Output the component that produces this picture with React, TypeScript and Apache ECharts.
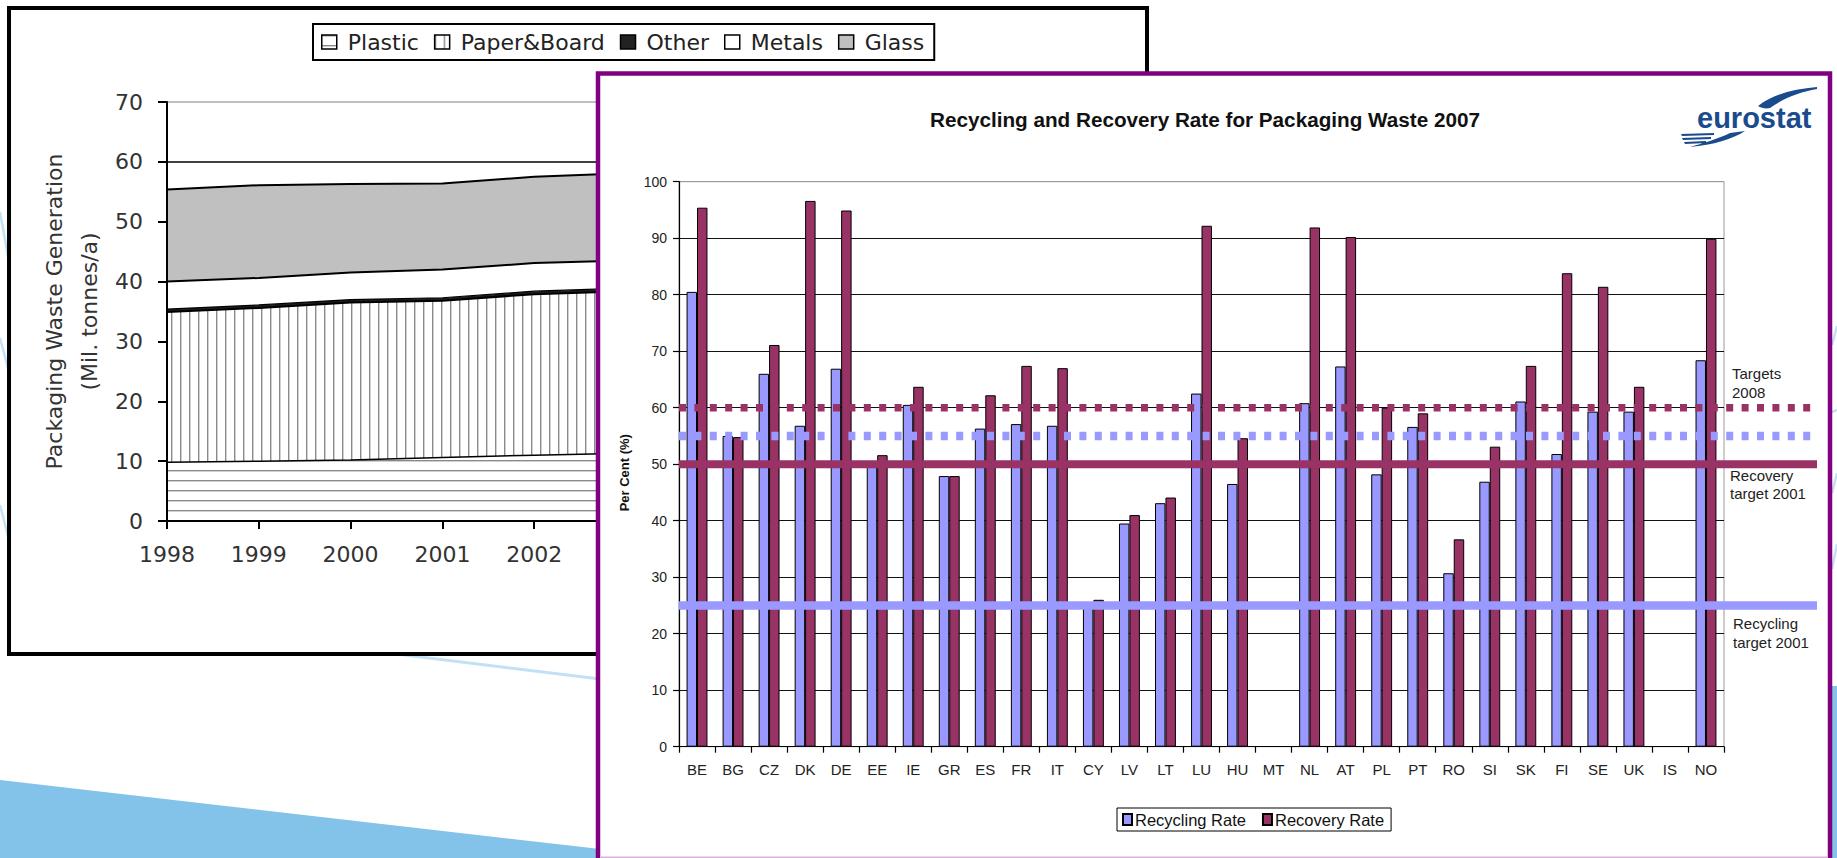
import React, { useEffect, useRef } from 'react';
import * as echarts from 'echarts';

// ---------- Left (background) chart: packaging waste generation ----------
const years = ['1998', '1999', '2000', '2001', '2002', '2003'];
const plastic = [9.8, 10.0, 10.2, 10.6, 11.0, 11.3];
const paperBoard = [25.1, 25.6, 26.3, 26.2, 26.9, 27.1];
const other = [0.5, 0.5, 0.5, 0.5, 0.5, 0.5];
const metals = [4.6, 4.5, 4.5, 4.7, 4.7, 4.6];
const glass = [15.4, 15.5, 14.8, 14.4, 14.4, 14.6];
const leftYTicks = [0, 10, 20, 30, 40, 50, 60, 70];

// ---------- Front chart: recycling & recovery 2007 ----------
const countries = ['BE', 'BG', 'CZ', 'DK', 'DE', 'EE', 'IE', 'GR', 'ES', 'FR', 'IT', 'CY', 'LV', 'LT', 'LU', 'HU', 'MT', 'NL', 'AT', 'PL', 'PT', 'RO', 'SI', 'SK', 'FI', 'SE', 'UK', 'IS', 'NO'];
const recyclingRate = [80.5, 55.0, 66.0, 56.8, 66.9, 50.2, 60.5, 47.9, 56.3, 57.1, 56.8, 25.0, 39.5, 43.1, 62.5, 46.5, null, 60.8, 67.3, 48.2, 56.6, 30.7, 46.9, 61.1, 51.8, 59.3, 59.3, null, 68.4];
const recoveryRate = [95.4, 54.8, 71.1, 96.6, 94.9, 51.6, 63.7, 47.9, 62.2, 67.4, 67.0, 26.0, 41.0, 44.1, 92.2, 54.6, null, 91.9, 90.2, 60.0, 59.0, 36.7, 53.1, 67.4, 83.8, 81.4, 63.7, null, 89.9];

const recyclingTarget2001 = 25;
const recoveryTarget2001 = 50;
const recyclingTarget2008 = 55;
const recoveryTarget2008 = 60;

const svgUrl = (s: string) => 'data:image/svg+xml;charset=utf-8,' + encodeURIComponent(s);
const hSvg = "<svg xmlns='http://www.w3.org/2000/svg' width='10' height='10'><rect width='10' height='10' fill='#ffffff'/><rect x='0' y='0' width='10' height='1.4' fill='#8a8a8a'/></svg>";
const vSvg = "<svg xmlns='http://www.w3.org/2000/svg' width='9' height='9'><rect width='9' height='9' fill='#ffffff'/><rect x='0' y='0' width='1.4' height='9' fill='#8a8a8a'/></svg>";
const hPattern: any = { image: svgUrl(hSvg), repeat: 'repeat', imageWidth: 10, imageHeight: 10 };
const vPattern: any = { image: svgUrl(vSvg), repeat: 'repeat', imageWidth: 9, imageHeight: 9 };

echarts.graphic.registerShape(
  'swooshTop',
  echarts.graphic.extendPath('M8,22 C24,10 44,5 67,3 L67,5 C50,8 34,14 20,24 C16,25 11,24 8,22 Z', {})
);
echarts.graphic.registerShape(
  'swooshBottom',
  echarts.graphic.extendPath(
    'M67,3 C55,11 35,17 12,19 C22,16 40,11 52,5 Z M3,6 L36,5 L36,7 L4,8 Z M4,10 L33,9 L33,11 L5,12 Z M6,14 L28,13 L28,15 L7,16 Z',
    {}
  )
);

const FONT = 'Liberation Sans';
const WIDE = 'DejaVu Sans';

export default function App() {
  const ref = useRef<HTMLDivElement>(null);

  useEffect(() => {
    const chart = echarts.init(ref.current!, null, { renderer: 'svg' });

    const lightBlue = '#c3e1f5';
    const option: any = {
      animation: false,
      backgroundColor: '#ffffff',
      textStyle: { fontFamily: FONT },
      title: [
        {
          text: 'Recycling and Recovery Rate for Packaging Waste 2007',
          left: 930,
          top: 109,
          padding: 0,
          z: 22,
          textStyle: { fontFamily: FONT, fontWeight: 'bold', fontSize: 20.7, color: '#111' },
        },
      ],
      legend: [
        {
          data: [
            { name: 'Plastic', itemStyle: { color: hPattern, borderColor: '#000', borderWidth: 1.5 } },
            { name: 'Paper&Board', itemStyle: { color: vPattern, borderColor: '#000', borderWidth: 1.5 } },
            { name: 'Other', itemStyle: { color: '#222', borderColor: '#000', borderWidth: 1.5 } },
            { name: 'Metals', itemStyle: { color: '#fff', borderColor: '#000', borderWidth: 1.5 } },
            { name: 'Glass', itemStyle: { color: '#c0c0c0', borderColor: '#000', borderWidth: 1.5 } },
          ],
          left: 313,
          top: 24,
          z: 6,
          icon: 'rect',
          itemWidth: 15,
          itemHeight: 14,
          itemGap: 15,
          padding: [7, 10, 7, 8],
          borderColor: '#000',
          borderWidth: 2,
          backgroundColor: '#fff',
          textStyle: { fontFamily: WIDE, fontSize: 22, color: '#222', padding: [0, 0, 0, 6] },
        },
        {
          data: ['Recycling Rate', 'Recovery Rate'],
          left: 1117,
          top: 808,
          z: 22,
          icon: 'rect',
          itemWidth: 9,
          itemHeight: 11,
          itemGap: 16,
          padding: [3, 7, 3, 5],
          borderColor: '#000',
          borderWidth: 1,
          backgroundColor: '#fff',
          textStyle: { fontFamily: FONT, fontSize: 16.5, color: '#111', padding: [0, 0, 0, -2] },
        },
      ],
      grid: [
        { left: 167, top: 102, right: 1211, bottom: 337, z: 3 },
        {
          left: 679, top: 181.7, right: 113, bottom: 111.3, z: 20,
          show: true, backgroundColor: 'transparent', borderColor: '#9a9a9a', borderWidth: 1,
        },
        { left: 679, top: 181.7, right: 20, bottom: 111.3, z: 20 },
      ],
      xAxis: [
        {
          gridIndex: 0,
          type: 'category',
          data: years,
          boundaryGap: false,
          z: 5,
          axisLine: { lineStyle: { color: '#000', width: 2 } },
          axisTick: { show: true, length: 8, lineStyle: { color: '#000', width: 2 } },
          axisLabel: { fontFamily: WIDE, fontSize: 22, color: '#333', margin: 22 },
          splitLine: { show: false },
        },
        {
          gridIndex: 1,
          type: 'category',
          data: countries,
          z: 21,
          axisLine: { lineStyle: { color: '#000', width: 1.2 } },
          axisTick: { show: true, length: 6, interval: 0, lineStyle: { color: '#000', width: 1.2 } },
          axisLabel: { interval: 0, fontFamily: FONT, fontSize: 15, color: '#222', margin: 15 },
          splitLine: { show: false },
        },
        { gridIndex: 2, type: 'value', min: 0, max: 1, show: false },
      ],
      yAxis: [
        {
          gridIndex: 0,
          type: 'value',
          min: 0,
          max: 70,
          interval: 10,
          z: 5,
          name: 'Packaging Waste Generation\n(Mil. tonnes/a)',
          nameLocation: 'middle',
          nameRotate: 90,
          nameGap: 60,
          nameTextStyle: { fontFamily: WIDE, fontSize: 22, color: '#333', lineHeight: 35 },
          axisLine: { show: true, lineStyle: { color: '#000', width: 2 } },
          axisTick: { show: true, length: 9, lineStyle: { color: '#000', width: 2 } },
          axisLabel: { fontFamily: WIDE, fontSize: 22, color: '#333', margin: 24, formatter: (v: number) => String(v) },
          splitLine: {
            show: true,
            lineStyle: {
              width: 1.6,
              color: leftYTicks.map((t) => (t === 70 ? '#a8a8a8' : t === 60 || t === 0 ? '#000' : 'transparent')),
            },
          },
        },
        {
          gridIndex: 1,
          type: 'value',
          min: 0,
          max: 100,
          interval: 10,
          z: 21,
          name: 'Per Cent (%)',
          nameLocation: 'middle',
          nameRotate: 90,
          nameGap: 48,
          nameTextStyle: { fontFamily: FONT, fontWeight: 'bold', fontSize: 13, color: '#111', padding: [0, 17, 0, 0] },
          axisLine: { show: true, lineStyle: { color: '#000', width: 1.2 } },
          axisTick: { show: true, length: 6, lineStyle: { color: '#000', width: 1.2 } },
          axisLabel: { fontFamily: FONT, fontSize: 14, color: '#222', margin: 12 },
          splitLine: {
            show: true,
            lineStyle: {
              width: 1.2,
              color: ['#111', '#111', '#111', '#111', '#111', '#111', '#111', '#111', '#111', '#111', '#9a9a9a'],
            },
          },
        },
        { gridIndex: 2, type: 'value', min: 0, max: 100, show: false },
      ],
      series: [
        {
          name: 'Plastic', type: 'line', stack: 'waste', xAxisIndex: 0, yAxisIndex: 0, data: plastic,
          symbol: 'none', z: 4, silent: true,
          lineStyle: { color: '#000', width: 1.5 },
          areaStyle: { color: hPattern, opacity: 1 },
          itemStyle: { color: hPattern, borderColor: '#000' },
        },
        {
          name: 'Paper&Board', type: 'line', stack: 'waste', xAxisIndex: 0, yAxisIndex: 0, data: paperBoard,
          symbol: 'none', z: 4, silent: true,
          lineStyle: { color: '#000', width: 2 },
          areaStyle: { color: vPattern, opacity: 1 },
          itemStyle: { color: vPattern, borderColor: '#000' },
        },
        {
          name: 'Other', type: 'line', stack: 'waste', xAxisIndex: 0, yAxisIndex: 0, data: other,
          symbol: 'none', z: 4, silent: true,
          lineStyle: { color: '#000', width: 1.2 },
          areaStyle: { color: '#1e1e1e', opacity: 1 },
          itemStyle: { color: '#1e1e1e' },
        },
        {
          name: 'Metals', type: 'line', stack: 'waste', xAxisIndex: 0, yAxisIndex: 0, data: metals,
          symbol: 'none', z: 4, silent: true,
          lineStyle: { color: '#000', width: 2 },
          areaStyle: { color: '#ffffff', opacity: 1 },
          itemStyle: { color: '#ffffff', borderColor: '#000' },
        },
        {
          name: 'Glass', type: 'line', stack: 'waste', xAxisIndex: 0, yAxisIndex: 0, data: glass,
          symbol: 'none', z: 4, silent: true,
          lineStyle: { color: '#000', width: 2 },
          areaStyle: { color: '#c0c0c0', opacity: 1 },
          itemStyle: { color: '#c0c0c0', borderColor: '#000' },
        },
        {
          name: 'Recycling Rate', type: 'bar', xAxisIndex: 1, yAxisIndex: 1, data: recyclingRate,
          barGap: '0%', barCategoryGap: '42%', z: 22,
          itemStyle: { color: '#9999ff', borderColor: '#000', borderWidth: 1 },
        },
        {
          name: 'Recovery Rate', type: 'bar', xAxisIndex: 1, yAxisIndex: 1, data: recoveryRate,
          barGap: '0%', barCategoryGap: '42%', z: 22,
          itemStyle: { color: '#993366', borderColor: '#000', borderWidth: 1 },
        },
        {
          name: 'Recycling target 2001', type: 'line', xAxisIndex: 2, yAxisIndex: 2, silent: true, z: 30,
          data: [[0, recyclingTarget2001], [1, recyclingTarget2001]], symbol: 'none',
          lineStyle: { color: '#9999ff', width: 8.5, cap: 'butt' },
        },
        {
          name: 'Recovery target 2001', type: 'line', xAxisIndex: 2, yAxisIndex: 2, silent: true, z: 30,
          data: [[0, recoveryTarget2001], [1, recoveryTarget2001]], symbol: 'none',
          lineStyle: { color: '#993366', width: 8, cap: 'butt' },
        },
        {
          name: 'Recycling target 2008', type: 'line', xAxisIndex: 2, yAxisIndex: 2, silent: true, z: 30,
          data: [[0, recyclingTarget2008], [1, recyclingTarget2008]], symbol: 'none',
          lineStyle: { color: '#9999ff', width: 8.5, type: [7, 8.4], cap: 'butt' },
        },
        {
          name: 'Recovery target 2008', type: 'line', xAxisIndex: 2, yAxisIndex: 2, silent: true, z: 30,
          data: [[0, recoveryTarget2008], [1, recoveryTarget2008]], symbol: 'none',
          lineStyle: { color: '#993366', width: 7.5, type: [7, 8.4], cap: 'butt' },
        },
      ],
      graphic: [
        // slide background decorations
        { type: 'polygon', z: 0, silent: true, shape: { points: [[0, 780], [600, 849], [600, 858], [0, 858]] }, style: { fill: '#83c3e9' } },
        { type: 'line', z: 0, silent: true, shape: { x1: 380, y1: 652, x2: 600, y2: 679 }, style: { stroke: lightBlue, lineWidth: 3 } },
        { type: 'line', z: 0, silent: true, shape: { x1: 0, y1: 212, x2: 9, y2: 262 }, style: { stroke: lightBlue, lineWidth: 2.5 } },
        { type: 'line', z: 0, silent: true, shape: { x1: 0, y1: 338, x2: 9, y2: 372 }, style: { stroke: lightBlue, lineWidth: 2.5 } },
        { type: 'line', z: 0, silent: true, shape: { x1: 0, y1: 505, x2: 9, y2: 540 }, style: { stroke: lightBlue, lineWidth: 2.5 } },
        { type: 'rect', z: 0, silent: true, shape: { x: 1832, y: 686, width: 6, height: 172 }, style: { fill: '#83c3e9' } },
        { type: 'line', z: 0, silent: true, shape: { x1: 1832, y1: 345, x2: 1837, y2: 326 }, style: { stroke: lightBlue, lineWidth: 2.5 } },
        { type: 'line', z: 0, silent: true, shape: { x1: 1832, y1: 412, x2: 1837, y2: 410 }, style: { stroke: lightBlue, lineWidth: 2.5 } },
        { type: 'line', z: 0, silent: true, shape: { x1: 1832, y1: 493, x2: 1837, y2: 473 }, style: { stroke: lightBlue, lineWidth: 2.5 } },
        { type: 'line', z: 0, silent: true, shape: { x1: 1832, y1: 569, x2: 1837, y2: 544 }, style: { stroke: lightBlue, lineWidth: 2.5 } },
        // left chart frame
        { type: 'rect', z: 1, silent: true, shape: { x: 9, y: 8, width: 1138, height: 646 }, style: { fill: '#ffffff', stroke: '#000', lineWidth: 4 } },
        // front chart frame
        { type: 'rect', z: 10, silent: true, shape: { x: 598, y: 73.5, width: 1232, height: 800 }, style: { fill: '#ffffff', stroke: '#800080', lineWidth: 4.5 } },
        { type: 'line', z: 11, silent: true, shape: { x1: 601, y1: 857.3, x2: 1828, y2: 857.3 }, style: { stroke: '#dcb0dc', lineWidth: 1.5 } },
        // eurostat logo
        { type: 'swooshTop', z: 22, silent: true, x: 1750, y: 84, style: { fill: '#1a4b8c' } },
        { type: 'swooshBottom', z: 22, silent: true, x: 1678, y: 128, style: { fill: '#1a4b8c' } },
        {
          type: 'text', z: 22, silent: true, x: 1697, y: 117.5,
          style: { text: 'eurostat', fontFamily: FONT, fontWeight: 'bold', fontSize: 29, fill: '#1a4b8c', align: 'left', verticalAlign: 'middle' },
        },
        // target annotations
        {
          type: 'text', z: 22, silent: true, x: 1732, y: 383,
          style: { text: 'Targets\n2008', fontFamily: FONT, fontSize: 15, lineHeight: 19, fill: '#222', align: 'left', verticalAlign: 'middle' },
        },
        {
          type: 'text', z: 22, silent: true, x: 1730, y: 484,
          style: { text: 'Recovery\ntarget 2001', fontFamily: FONT, fontSize: 15, lineHeight: 18, fill: '#222', align: 'left', verticalAlign: 'middle' },
        },
        {
          type: 'text', z: 22, silent: true, x: 1733, y: 633,
          style: { text: 'Recycling\ntarget 2001', fontFamily: FONT, fontSize: 15, lineHeight: 19, fill: '#222', align: 'left', verticalAlign: 'middle' },
        },
      ],
    };

    chart.setOption(option);
    return () => chart.dispose();
  }, []);

  return (
    <div
      ref={ref}
      style={{ position: 'fixed', left: 0, top: 0, width: 1837, height: 858, background: '#fff' }}
    />
  );
}
